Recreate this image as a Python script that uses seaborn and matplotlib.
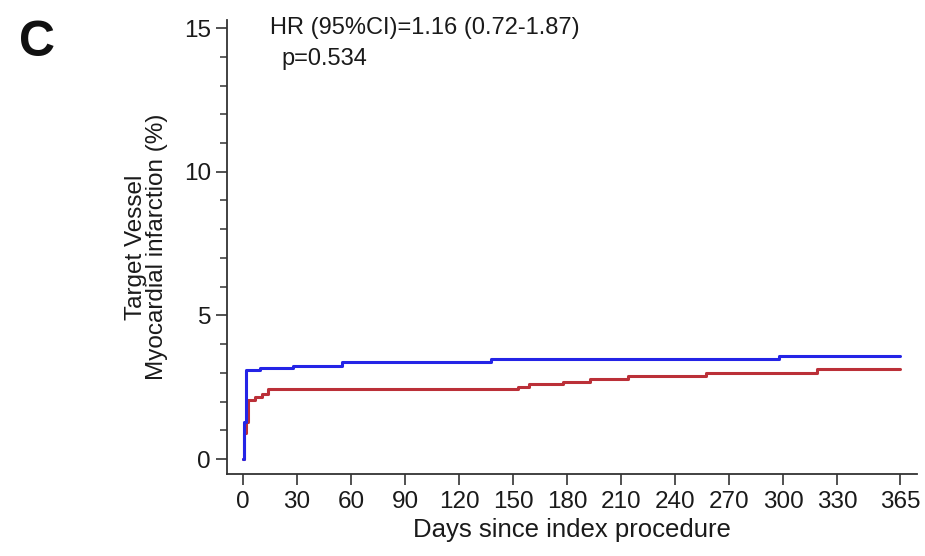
import matplotlib
matplotlib.use("Agg")
import matplotlib.pyplot as plt
import seaborn as sns
import pandas as pd
from matplotlib.ticker import MultipleLocator

# Data
blue_days = [0, 0.5, 1.8, 9.4, 27.8, 55, 138, 298, 365]
blue_vals = [0, 1.3, 3.10, 3.18, 3.25, 3.37, 3.48, 3.60, 3.60]
red_days = [0, 0.8, 1.5, 2.8, 6.7, 10.5, 14, 153, 159, 178, 193, 214, 257, 319, 365]
red_vals = [0, 0.9, 1.3, 2.05, 2.15, 2.26, 2.44, 2.52, 2.60, 2.69, 2.79, 2.89, 3.01, 3.12, 3.12]
x_ticks = [0, 30, 60, 90, 120, 150, 180, 210, 240, 270, 300, 330, 365]
y_ticks = [0, 5, 10, 15]

sns.set_style("ticks")
plt.rcParams['font.family'] = ['Liberation Sans', 'DejaVu Sans']

W, H = 925, 556
fig = plt.figure(figsize=(W / 100, H / 100), dpi=100)
ax = fig.add_axes([227 / W, 1 - 474 / H, 690 / W, (474 - 20) / H])

dfb = pd.DataFrame({"day": blue_days, "pct": blue_vals})
dfr = pd.DataFrame({"day": red_days, "pct": red_vals})
sns.lineplot(data=dfr, x="day", y="pct", ax=ax, drawstyle="steps-post",
             color="#bb3038", lw=2.2, estimator=None)
sns.lineplot(data=dfb, x="day", y="pct", ax=ax, drawstyle="steps-post",
             color="#2424e6", lw=2.2, estimator=None)

ax.set_xlim(-8.9, 374.4)
ax.set_ylim(-0.52, 15.28)
ax.set_xticks(x_ticks)
ax.set_xticklabels([str(t) for t in x_ticks])
ax.set_yticks(y_ticks)
ax.yaxis.set_minor_locator(MultipleLocator(1))
for s in ["top", "right"]:
    ax.spines[s].set_visible(False)
for s in ["left", "bottom"]:
    ax.spines[s].set_color("#333333")
    ax.spines[s].set_linewidth(1.3)
ax.tick_params(axis="both", which="major", length=8, width=1.2, color="#333333",
               labelsize=17.5, labelcolor="#1a1a1a")
ax.tick_params(axis="x", which="major", pad=4)
ax.tick_params(axis="y", which="major", pad=3.5)
ax.tick_params(axis="y", which="minor", length=5, width=1.1, color="#333333")
ax.set_xlabel("Days since index procedure", fontsize=18.5, color="#1a1a1a",
              labelpad=3.6)
ax.set_ylabel("Target Vessel\nMyocardial infarction (%)", fontsize=17.5,
              color="#1a1a1a", linespacing=0.92)
ax.yaxis.set_label_coords((168 - 227) / 690, 0.5)

fig.text(270 / W, 1 - 34 / H, "HR (95%CI)=1.16 (0.72-1.87)", fontsize=17,
         color="#1a1a1a", va="baseline", ha="left")
fig.text(281 / W, 1 - 65 / H, "p=0.534", fontsize=17, color="#1a1a1a",
         va="baseline", ha="left")
fig.text(19 / W, 1 - 56 / H, "C", fontsize=36, fontweight="bold", color="#111111",
         va="baseline", ha="left")

fig.savefig("out.png", dpi=100)
